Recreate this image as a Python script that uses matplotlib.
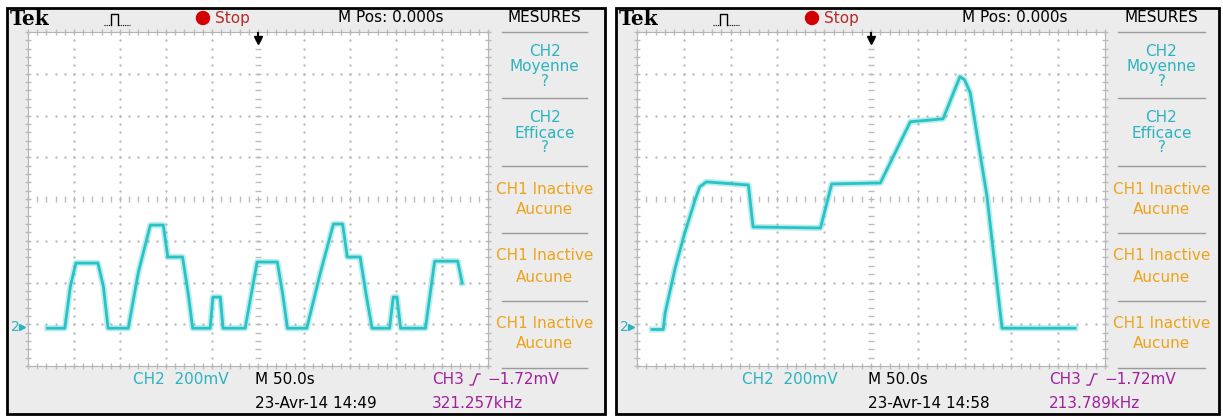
import numpy as np
import matplotlib
matplotlib.use("Agg")
import matplotlib.pyplot as plt
from matplotlib.patches import Rectangle, Circle

W, H = 1223, 416

# CH2 traces read off the screens: time in s (M 50.0s/div, M Pos 0.000s),
# voltage in mV above the "2" ground marker (200mV/div)
left_t = [-229, -210, -204, -198, -174, -168, -163, -141, -130, -117, -103, -98,
          -82, -76, -71, -52, -49, -41, -38, -14, -1, 21, 27, 32, 53, 68, 82, 92,
          97, 111, 118, 124, 143, 147, 151, 155, 182, 192, 217, 222]
left_mv = [-19, -19, 180, 293, 293, 180, -19, -19, 250, 475, 475, 322, 322, 150,
           -19, -19, 130, 130, -19, -19, 298, 298, 140, -19, -19, 250, 480, 480,
           322, 322, 130, -19, -19, 130, 130, -19, -19, 302, 302, 197]

right_t = [-234, -222, -220, -209, -199, -188, -183, -176, -131, -126, -54, -42,
           10, 42, 77, 95, 100, 106, 124, 140, 218]
right_mv = [-25, -25, 53, 274, 437, 595, 658, 682, 667, 466, 461, 672, 677, 970,
            984, 1186, 1171, 1109, 610, -19, -19]

left_date = "23-Avr-14 14:49"
right_date = "23-Avr-14 14:58"
left_freq = "321.257kHz"
right_freq = "213.789kHz"

menu_blocks = [
    (["CH2", "Moyenne", "?"], [52, 67, 81], "#2bb3c0"),
    (["CH2", "Efficace", "?"], [117, 133, 147], "#2bb3c0"),
    (["CH1 Inactive", "Aucune"], [189, 210], "#eca41c"),
    (["CH1 Inactive", "Aucune"], [256, 277], "#eca41c"),
    (["CH1 Inactive", "Aucune"], [323, 344], "#eca41c"),
]
menu_seps = [32, 98, 166, 233, 301, 368]

CYAN = "#2bb3c0"
TRACE = "#27c3c5"
MAGENTA = "#a0209c"
FONT = "DejaVu Sans"
FS = 11

fig = plt.figure(figsize=(W / 100, H / 100), dpi=100)
fig.patch.set_facecolor("white")

bg = fig.add_axes([0, 0, 1, 1], zorder=0)
bg.set_xlim(0, W); bg.set_ylim(H, 0); bg.axis("off")
fg = fig.add_axes([0, 0, 1, 1], zorder=3)
fg.set_xlim(0, W); fg.set_ylim(H, 0); fg.axis("off")
fg.patch.set_alpha(0)


def scope(fx0, fx1, gx0, gx1, mx0, mx1, mpos_x, t, mv, date, freq):
    y0, y1 = 8, 414
    gy0, gy1 = 32, 366
    bg.add_patch(Rectangle((fx0, y0), fx1 - fx0, y1 - y0, fc="#ececec",
                           ec="black", lw=2))
    # top bar
    bg.text(fx0 + 3, 19, "Tek", family="DejaVu Serif", weight="bold",
            fontsize=14.5, va="center", ha="left")
    ix = fx0 + 97
    bg.plot([ix, ix + 7], [25, 25], color="black", lw=0.8, ls=(0, (1, 1)))
    bg.plot([ix + 7, ix + 7, ix + 14, ix + 14], [25, 14, 14, 25], color="black", lw=1)
    bg.plot([ix + 14, ix + 26], [25, 25], color="black", lw=0.8, ls=(0, (1, 1)))
    bg.add_patch(Circle((fx0 + 196, 18), 6.5, color="#d40000"))
    bg.text(fx0 + 208, 18, "Stop", color="#b52a2a", fontsize=FS, family=FONT,
            va="center", ha="left")
    bg.text(mpos_x, 18, "M Pos: 0.000s", fontsize=FS, family=FONT,
            va="center", ha="center")
    mc = (mx0 + mx1) / 2
    bg.text(mc, 18, "MESURES", fontsize=FS, family=FONT, va="center", ha="center")
    # measurement menu
    for ys in menu_seps:
        bg.plot([mx0, mx1], [ys, ys], color="#9a9a9a", lw=1)
    for lines, ys, col in menu_blocks:
        for s, yy in zip(lines, ys):
            bg.text(mc, yy, s, color=col, fontsize=FS, family=FONT,
                    va="center", ha="center")
    # bottom readouts
    bg.text(gx0 + 105, 379, "CH2  200mV", color=CYAN, fontsize=FS, family=FONT,
            va="center", ha="left")
    gc = (gx0 + gx1) / 2
    bg.text(gc - 3, 379, "M 50.0s", fontsize=FS, family=FONT, va="center", ha="left")
    bg.text(gc - 3, 403, date, fontsize=FS, family=FONT, va="center", ha="left")
    cx = gx1 - 56
    bg.text(cx, 379, "CH3", color=MAGENTA, fontsize=FS, family=FONT,
            va="center", ha="left")
    bg.plot([cx + 38, cx + 41, cx + 45, cx + 48], [385, 385, 374, 374],
            color=MAGENTA, lw=1)
    bg.text(cx + 55, 379, "\u22121.72mV", color=MAGENTA, fontsize=FS, family=FONT,
            va="center", ha="left")
    bg.text(cx, 403, freq, color=MAGENTA, fontsize=FS, family=FONT,
            va="center", ha="left")
    # ground marker and trigger position arrow
    fg.text(gx0 - 17, 327, "2", color=CYAN, fontsize=10, family=FONT,
            va="center", ha="left")
    fg.plot([gx0 - 6], [327], marker=">", ms=4.5, color=CYAN)
    fg.plot([gc, gc], [33, 39], color="black", lw=1.5)
    fg.plot([gc], [40], marker="v", ms=6, color="black")

    # graticule
    ax = fig.add_axes([gx0 / W, 1 - gy1 / H, (gx1 - gx0) / W, (gy1 - gy0) / H],
                      zorder=1)
    ax.set_facecolor("white")
    ax.set_xlim(-250, 250)
    ax.set_ylim(-200, 1400)
    ax.set_xticks([]); ax.set_yticks([])
    for sp in ax.spines.values():
        sp.set_color("#b4b4b4"); sp.set_linewidth(0.8)
    dot = dict(ls="none", color="#bcbcbc", clip_on=False)
    fine_v = np.arange(-200, 1401, 40)
    fine_t = np.arange(-250, 251, 10)
    for tv in np.arange(-200, 201, 50):
        if tv == 0:
            ax.plot(np.full_like(fine_v, 0), fine_v, marker="_", ms=4, **dot)
        else:
            ax.plot(np.full_like(fine_v, tv), fine_v, marker=".", ms=1.5, **dot)
    for vv in np.arange(0, 1201, 200):
        if vv == 600:
            ax.plot(fine_t, np.full_like(fine_t, 600), marker="|", ms=4, **dot)
        else:
            ax.plot(fine_t, np.full_like(fine_t, vv), marker=".", ms=1.5, **dot)
    ax.plot(fine_t, np.full_like(fine_t, -200), marker="|", ms=5, **dot)
    ax.plot(fine_t, np.full_like(fine_t, 1400), marker="|", ms=5, **dot)
    ax.plot(np.full_like(fine_v, -250), fine_v, marker="_", ms=5, **dot)
    ax.plot(np.full_like(fine_v, 250), fine_v, marker="_", ms=5, **dot)
    # CH2 trace
    ax.plot(t, mv, color=TRACE, lw=4.5, alpha=0.3, solid_joinstyle="round")
    ax.plot(t, mv, color=TRACE, lw=2, solid_joinstyle="round")
    return ax


scope(7, 605, 28, 488, 502, 587, 391, left_t, left_mv, left_date, left_freq)
scope(616, 1219, 637, 1105, 1118, 1205, 1015, right_t, right_mv, right_date, right_freq)

fig.savefig("out.png", dpi=100)
